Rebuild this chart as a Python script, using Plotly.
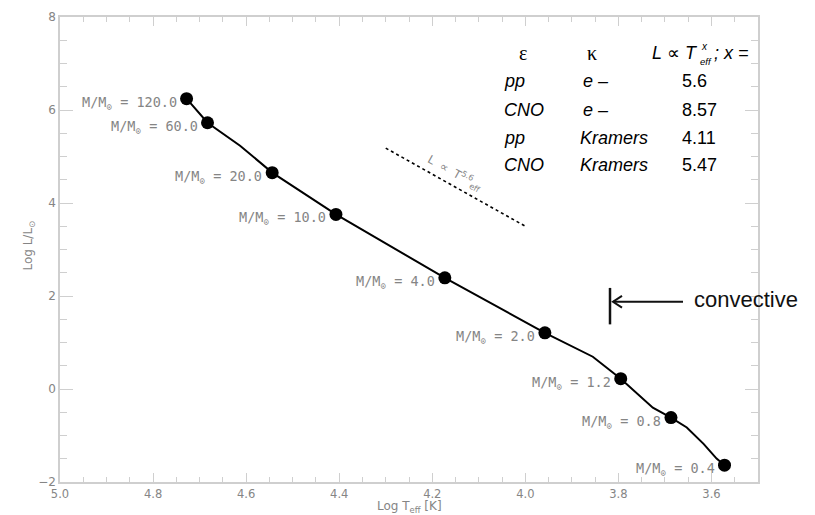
import plotly.graph_objects as go

# Zero-age main sequence models: mass labels and HR-diagram positions
mass_labels = ["120.0", "60.0", "20.0", "10.0", "4.0", "2.0", "1.2", "0.8", "0.4"]
log_teff = [4.728, 4.683, 4.544, 4.407, 4.173, 3.958, 3.795, 3.687, 3.572]
log_lum = [6.244, 5.726, 4.653, 3.754, 2.390, 1.209, 0.221, -0.615, -1.639]

# Track through the models (finer sampling along the sequence)
track_teff = [4.728, 4.683, 4.613, 4.544, 4.407, 4.173, 3.958, 3.855, 3.795,
              3.726, 3.687, 3.653, 3.617, 3.589, 3.572]
track_lum = [6.244, 5.726, 5.232, 4.653, 3.754, 2.390, 1.209, 0.694, 0.221,
             -0.403, -0.615, -0.827, -1.179, -1.497, -1.639]

# Homology exponents L ~ Teff^x for energy source / opacity combinations
eps_src = ["pp", "CNO", "pp", "CNO"]
kappa_src = ["e –", "e –", "Kramers", "Kramers"]
exponents = [5.6, 8.57, 4.11, 5.47]

# Reference slope segment
slope_teff = [4.30, 4.00]
slope_lum0 = 5.18

x_ticks = [5.0, 4.8, 4.6, 4.4, 4.2, 4.0, 3.8, 3.6]
y_ticks = [-2, 0, 2, 4, 6, 8]

W, H = 815, 515
L_M, R_M, T_M, B_M = 60, 57, 10, 33
PW, PH = W - L_M - R_M, H - T_M - B_M


def px(xp):
    return (xp - L_M) / PW


def py(yp):
    return (H - B_M - yp) / PH


GRAY = "#858585"
AXIS = "#cfcfcf"

fig = go.Figure()

fig.add_trace(go.Scatter(x=track_teff, y=track_lum, mode="lines",
                         line=dict(color="black", width=2), hoverinfo="skip"))

slope_lum = [slope_lum0, slope_lum0 + exponents[0] * (slope_teff[1] - slope_teff[0])]
fig.add_trace(go.Scatter(x=slope_teff, y=slope_lum, mode="lines",
                         line=dict(color="black", width=1.6, dash="3px,3px")))

fig.add_trace(go.Scatter(x=log_teff, y=log_lum, mode="markers",
                         marker=dict(color="black", size=13)))

annotations = []
for lab, xv, yv in zip(mass_labels, log_teff, log_lum):
    annotations.append(dict(
        x=xv, y=yv, xref="x", yref="y", showarrow=False,
        text="M/M<sub>⊙</sub> = " + lab, xanchor="right", yanchor="middle",
        xshift=-8, yshift=-4,
        font=dict(family="DejaVu Sans Mono", size=13.5, color=GRAY)))

# label along the slope segment
annotations.append(dict(
    x=px(455), y=py(168), xref="paper", yref="paper", showarrow=False,
    text="L  ∝  T<sup>%s</sup><sub>eff</sub>" % exponents[0], textangle=29,
    xanchor="center", font=dict(family="DejaVu Sans", size=11.5, color=GRAY)))

# table
TF = "Liberation Sans"
annotations += [
    dict(x=px(523), y=py(47), text="ε", xanchor="center",
         font=dict(family="Liberation Serif", size=20, color="black")),
    dict(x=px(592), y=py(47), text="κ", xanchor="center",
         font=dict(family="Liberation Serif", size=20, color="black")),
    dict(x=px(651), y=py(47), text="<i>L</i> ∝ <i>T</i>", xanchor="left", borderpad=0,
         font=dict(family=TF, size=18, color="black")),
    dict(x=px(700), y=py(40), text="<i>x</i>", xanchor="left", borderpad=0,
         font=dict(family=TF, size=10, color="black")),
    dict(x=px(699), y=py(55), text="<i>eff</i>", xanchor="left", borderpad=0,
         font=dict(family=TF, size=9.5, color="black")),
    dict(x=px(713), y=py(47), text="<i>; x =</i>", xanchor="left", borderpad=0,
         font=dict(family=TF, size=18, color="black")),
]
row_y = [75, 104, 133, 160]
for e, k, xv, ry in zip(eps_src, kappa_src, exponents, row_y):
    annotations += [
        dict(x=px(502), y=py(ry), text="<i>%s</i>" % e, xanchor="left",
             font=dict(family=TF, size=18, color="black")),
        dict(x=px(578 if k == "Kramers" else 581), y=py(ry), text="<i>%s</i>" % k,
             xanchor="left", font=dict(family=TF, size=18, color="black")),
        dict(x=px(680), y=py(ry), text=str(xv), xanchor="left",
             font=dict(family=TF, size=18, color="black")),
    ]

annotations.append(dict(
    x=px(692), y=py(297), text="convective", xanchor="left",
    font=dict(family=TF, size=22, color="#111111")))

# axis titles
annotations += [
    dict(x=px(29), y=py(242), text="Log L/L<sub>⊙</sub>", textangle=-90,
         xanchor="center", font=dict(family="DejaVu Sans", size=12, color=GRAY)),
    dict(x=px(409), y=py(507), text="Log T<sub>eff</sub> [K]", xanchor="center",
         font=dict(family="DejaVu Sans", size=12, color=GRAY)),
]
for a in annotations:
    a.setdefault("xref", "paper")
    a.setdefault("yref", "paper")
    a.setdefault("showarrow", False)
    a.setdefault("yanchor", "middle")

shapes = [
    # convective boundary bar
    dict(type="line", xref="paper", yref="paper", x0=px(610), x1=px(610),
         y0=py(285), y1=py(322), line=dict(color="#111111", width=2.5)),
    # arrow shaft and open head
    dict(type="line", xref="paper", yref="paper", x0=px(613), x1=px(683),
         y0=py(299), y1=py(299), line=dict(color="#111111", width=2)),
    dict(type="path", xref="paper", yref="paper",
         path="M %f %f L %f %f L %f %f" % (px(622), py(293), px(613), py(299), px(622), py(305)),
         line=dict(color="#111111", width=2)),
]

fig.update_layout(
    width=W, height=H, margin=dict(l=L_M, r=R_M, t=T_M, b=B_M),
    paper_bgcolor="white", plot_bgcolor="white", showlegend=False,
    annotations=annotations, shapes=shapes,
    xaxis=dict(range=[5.0, 3.5], tickvals=x_ticks,
               ticktext=["%.1f" % v for v in x_ticks],
               showgrid=False, zeroline=False, showline=True, linecolor=AXIS,
               linewidth=1.5, mirror="ticks", ticks="inside", ticklen=9,
               tickcolor=AXIS, tickwidth=1,
               tickfont=dict(family="DejaVu Sans", size=11.5, color=GRAY),
               minor=dict(dtick=0.05, tick0=5.0, ticks="inside", ticklen=5,
                          tickcolor=AXIS, tickwidth=1)),
    yaxis=dict(range=[-2, 8], tickvals=y_ticks,
               ticktext=[("−%d" % -v) if v < 0 else str(v) for v in y_ticks],
               showgrid=False, zeroline=False, showline=True, linecolor=AXIS,
               linewidth=1.5, mirror="ticks", ticks="inside", ticklen=13,
               tickcolor=AXIS, tickwidth=1,
               tickfont=dict(family="DejaVu Sans", size=12, color=GRAY),
               minor=dict(dtick=0.5, tick0=0, ticks="inside", ticklen=7,
                          tickcolor=AXIS, tickwidth=1)),
)

fig.write_html("out.html")
